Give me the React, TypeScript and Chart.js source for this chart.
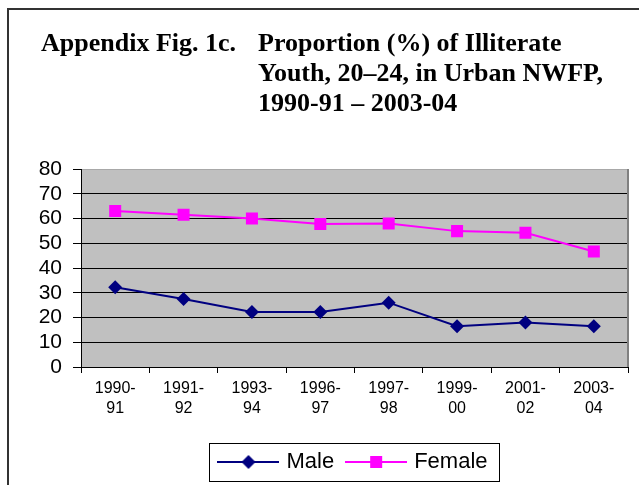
import React, { useEffect, useRef } from 'react';
import { Chart, registerables } from 'chart.js';

Chart.register(...registerables);

const categories: string[][] = [
  ['1990-', '91'],
  ['1991-', '92'],
  ['1993-', '94'],
  ['1996-', '97'],
  ['1997-', '98'],
  ['1999-', '00'],
  ['2001-', '02'],
  ['2003-', '04'],
];
const maleValues = [32.2, 27.5, 22.2, 22.2, 26.0, 16.5, 18.0, 16.5];
const femaleValues = [63.0, 61.5, 60.0, 57.8, 58.0, 54.9, 54.2, 46.7];
const seriesNames = ['Male', 'Female'];
const yMin = 0;
const yMax = 80;
const yStep = 10;
const titleLead = 'Appendix Fig. 1c.';
const titleLines = ['Proportion (%) of Illiterate', 'Youth, 20–24, in Urban NWFP,', '1990-91 – 2003-04'];

const MALE_COLOR = '#000080';
const FEMALE_COLOR = '#FF00FF';
const SANS = '"Liberation Sans", Arial, sans-serif';
const SERIF = '"Liberation Serif", "Times New Roman", serif';

function makeIcon(color: string, kind: 'diamond' | 'square'): HTMLCanvasElement {
  const c = document.createElement('canvas');
  c.width = 62;
  c.height = 18;
  const g = c.getContext('2d')!;
  g.strokeStyle = color;
  g.lineWidth = 2;
  g.beginPath();
  g.moveTo(0, 9);
  g.lineTo(62, 9);
  g.stroke();
  g.fillStyle = color;
  g.beginPath();
  if (kind === 'diamond') {
    g.moveTo(31 - 7, 9);
    g.lineTo(31, 9 - 7);
    g.lineTo(31 + 7, 9);
    g.lineTo(31, 9 + 7);
    g.closePath();
  } else {
    g.rect(31 - 6, 9 - 6, 12, 12);
  }
  g.fill();
  return c;
}

const decorPlugin = {
  id: 'decor',
  beforeDraw(chart: any) {
    const { ctx, chartArea } = chart;
    ctx.save();
    ctx.fillStyle = '#ffffff';
    ctx.fillRect(0, 0, chart.width, chart.height);
    // frame
    ctx.strokeStyle = '#333333';
    ctx.lineWidth = 2;
    ctx.beginPath();
    ctx.moveTo(8, chart.height);
    ctx.lineTo(8, 9);
    ctx.lineTo(chart.width, 9);
    ctx.stroke();
    // plot background
    ctx.fillStyle = '#C0C0C0';
    ctx.fillRect(chartArea.left, chartArea.top, chartArea.right - chartArea.left, chartArea.bottom - chartArea.top);
    // title
    ctx.fillStyle = '#000000';
    ctx.font = 'bold 26px ' + SERIF;
    ctx.textBaseline = 'alphabetic';
    ctx.textAlign = 'left';
    ctx.fillText(titleLead, 41, 51);
    titleLines.forEach((t, i) => ctx.fillText(t, 258, 51 + i * 30));
    ctx.restore();
  },
  afterDraw(chart: any) {
    const { ctx, chartArea, legend } = chart;
    ctx.save();
    // plot right border
    ctx.strokeStyle = '#808080';
    ctx.lineWidth = 2;
    ctx.beginPath();
    ctx.moveTo(chartArea.right, chartArea.top);
    ctx.lineTo(chartArea.right, chartArea.bottom);
    ctx.stroke();
    // legend box
    if (legend && legend.legendHitBoxes && legend.legendHitBoxes.length) {
      const hb = legend.legendHitBoxes;
      const first = hb[0];
      const last = hb[hb.length - 1];
      const cy = first.top + first.height / 2;
      const x0 = Math.round(first.left - 12) + 0.5;
      const x1 = Math.round(last.left + last.width + 11) + 0.5;
      ctx.strokeStyle = '#000000';
      ctx.lineWidth = 1;
      ctx.strokeRect(x0, Math.round(cy - 19) + 0.5, x1 - x0, 38);
    }
    ctx.restore();
  },
};

export default function App() {
  const ref = useRef<HTMLCanvasElement | null>(null);
  useEffect(() => {
    document.body.style.margin = '0';
    const canvas = ref.current!;
    const icons = [makeIcon(MALE_COLOR, 'diamond'), makeIcon(FEMALE_COLOR, 'square')];
    const chart = new Chart(canvas, {
      type: 'line',
      data: {
        labels: categories as any,
        datasets: [
          {
            label: seriesNames[0],
            data: maleValues,
            borderColor: MALE_COLOR,
            backgroundColor: MALE_COLOR,
            borderWidth: 2,
            pointStyle: 'rectRot',
            pointRadius: 7,
            pointBorderWidth: 0,
            tension: 0,
          },
          {
            label: seriesNames[1],
            data: femaleValues,
            borderColor: FEMALE_COLOR,
            backgroundColor: FEMALE_COLOR,
            borderWidth: 2,
            pointStyle: 'rect',
            pointRadius: 8.5,
            pointBorderWidth: 0,
            tension: 0,
          },
        ],
      },
      options: {
        responsive: false,
        animation: false,
        devicePixelRatio: 1,
        layout: { padding: { left: 0, right: 11, top: 169, bottom: 2 } },
        plugins: {
          title: { display: false },
          tooltip: { enabled: false },
          legend: {
            display: true,
            position: 'bottom',
            fullSize: false,
            labels: {
              usePointStyle: true,
              pointStyleWidth: 54,
              padding: 15,
              color: '#000000',
              font: { family: SANS, size: 22 },
              generateLabels: (c: any) => {
                const base = Chart.defaults.plugins.legend.labels.generateLabels(c);
                return base.map((l: any, i: number) => ({ ...l, pointStyle: icons[i] }));
              },
            },
          },
        },
        scales: {
          x: {
            type: 'category',
            offset: true,
            grid: {
              offset: true,
              drawOnChartArea: false,
              drawTicks: true,
              tickLength: 6,
              color: '#000000',
            },
            border: { display: true, color: '#000000', width: 1 },
            ticks: {
              color: '#000000',
              font: { family: SANS, size: 16, lineHeight: 1.25 },
              maxRotation: 0,
              autoSkip: false,
              padding: 6,
            },
            afterFit: (s: any) => {
              s.height = 69;
            },
          },
          y: {
            min: yMin,
            max: yMax,
            grid: {
              color: (ctx: any) => (ctx.tick && ctx.tick.value === yMax ? '#a8a8a8' : '#000000'),
              lineWidth: 1,
              tickLength: 8,
              tickColor: '#000000',
            },
            border: { display: true, color: '#000000', width: 1 },
            ticks: {
              stepSize: yStep,
              autoSkip: false,
              color: '#000000',
              font: { family: SANS, size: 21 },
              padding: 11,
            },
            afterFit: (s: any) => {
              s.width = 81;
            },
          },
        },
      },
      plugins: [decorPlugin],
    } as any);
    return () => chart.destroy();
  }, []);
  return (
    <div style={{ width: 639, height: 485 }}>
      <canvas ref={ref} width={639} height={485} style={{ display: 'block', width: 639, height: 485 }} />
    </div>
  );
}
